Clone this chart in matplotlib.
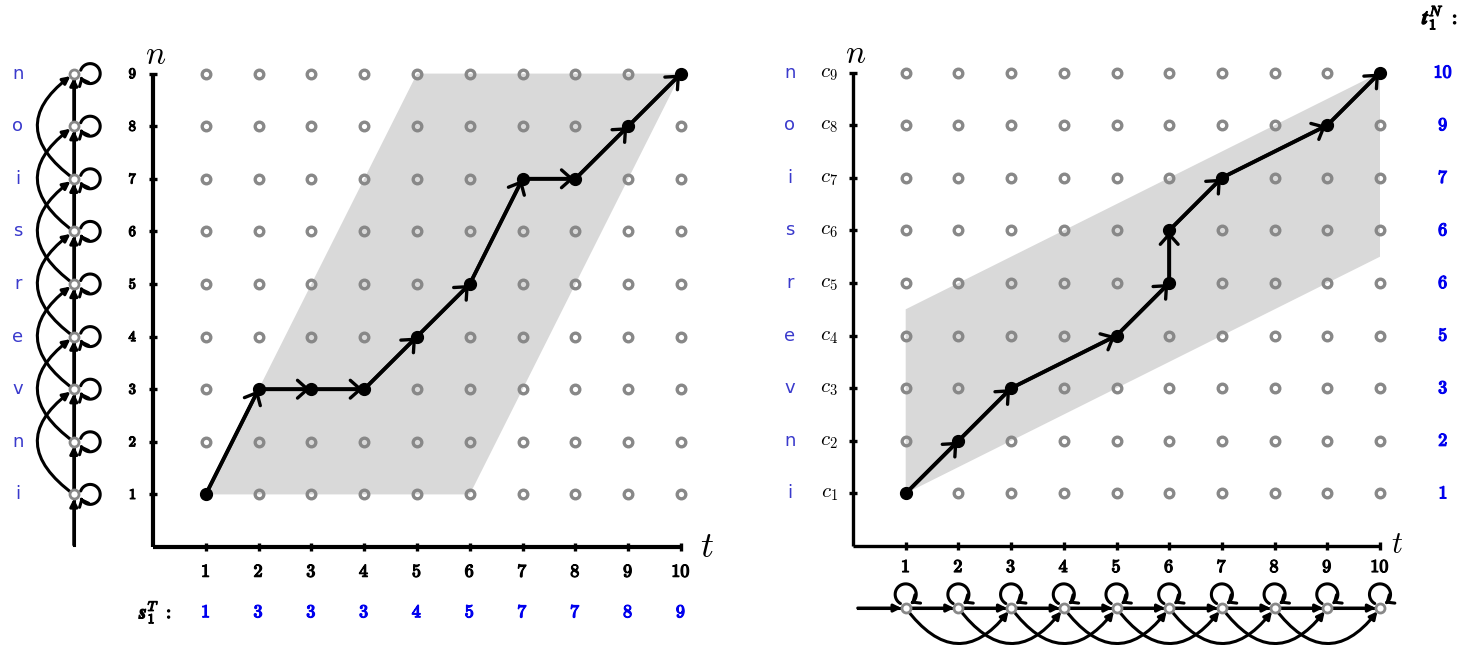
import matplotlib
matplotlib.use('Agg')
import matplotlib.pyplot as plt
import matplotlib.patheffects as pe
from matplotlib.patches import FancyArrowPatch, Polygon
from matplotlib.path import Path
import numpy as np

plt.rcParams['mathtext.fontset'] = 'cm'

# grid
t_vals = list(range(1, 11))
n_vals = list(range(1, 10))
letters = list("inversion")

# left: path through (t, s_t) and the allowed band
left_path_t = [1, 2, 3, 4, 5, 6, 7, 8, 9, 10]
left_path_n = [1, 3, 3, 3, 4, 5, 7, 7, 8, 9]
left_band_t = [1, 6, 10, 5]
left_band_n = [1, 1, 9, 9]

# right: path through (t_n, n) and the allowed band
right_path_t = [1, 2, 3, 5, 6, 6, 7, 9, 10]
right_path_n = [1, 2, 3, 4, 5, 6, 7, 8, 9]
right_band_t = [1, 10, 10, 1]
right_band_n = [1, 5.5, 9, 4.5]

W, H = 1466, 645
BLUE = '#0000ee'
LETTER = '#3a3acc'
GRAY = '#888888'
BAND = '#d9d9d9'

fig = plt.figure(figsize=(W / 100, H / 100), dpi=100)


def make_axes(left_px, right_px, x0, y0, dx, dy):
    ax = fig.add_axes([left_px / W, 0, (right_px - left_px) / W, 1])
    ax.set_xlim((left_px - x0) / dx, (right_px - x0) / dx)
    ax.set_ylim((y0 - H) / dy, y0 / dy)
    ax.axis('off')
    return ax


def bold_text(ax, x, y, s, size, color='black'):
    # cm bold digits are thin at this size, so thicken them a bit
    ax.text(x, y, s, fontsize=size, ha='center', va='center', color=color,
            path_effects=[pe.withStroke(linewidth=0.9, foreground=color)])


def arrow(ax, a, b, style='->', lw=2.6, ms=16, sb=0, rad=0.0, z=5):
    p = FancyArrowPatch(a, b, arrowstyle=style, mutation_scale=ms, lw=lw,
                        color='black', shrinkA=0, shrinkB=sb,
                        connectionstyle=f'arc3,rad={rad}', zorder=z)
    ax.add_patch(p)


def loop(ax, cx, cy, r, a0, a1):
    ang = np.radians(np.linspace(a0, a1, 40))
    verts = np.column_stack([cx + r * np.cos(ang), cy + r * np.sin(ang)])
    p = FancyArrowPatch(path=Path(verts),
                        arrowstyle='->,head_length=0.35,head_width=0.3',
                        mutation_scale=12, lw=2.2, color='black', zorder=5)
    ax.add_patch(p)


def lattice(ax, band_t, band_n, path_t, path_n, axis_lw):
    ax.add_patch(Polygon(list(zip(band_t, band_n)), closed=True,
                         facecolor=BAND, edgecolor='none', zorder=0))
    tt, nn = np.meshgrid(t_vals, n_vals)
    ax.plot(tt.ravel(), nn.ravel(), 'o', ms=6.2, mfc='none', mec=GRAY,
            mew=2.4, zorder=2, linestyle='none')
    ax.plot(path_t, path_n, color='black', lw=2.8, zorder=3)
    ax.plot(path_t, path_n, 'o', color='black', ms=8.5, zorder=4)
    for i in range(len(path_t) - 1):
        arrow(ax, (path_t[i], path_n[i]), (path_t[i + 1], path_n[i + 1]),
              style='->,head_length=0.45,head_width=0.4', lw=2.4, ms=16, sb=1)
    # axes
    ax.plot([0, 10], [0, 0], color='black', lw=axis_lw, zorder=3,
            solid_capstyle='butt')
    ax.plot([0, 0], [0, 9], color='black', lw=axis_lw, zorder=3,
            solid_capstyle='butt')
    ax.plot(t_vals, [0] * len(t_vals), '|', color='black', ms=6, mew=2.4)
    ax.plot([0] * len(n_vals), n_vals, '_', color='black', ms=6, mew=2.4)


# ---------------- left panel ----------------
axL = make_axes(0, 733, 153, 547, 52.8, 52.6)
lattice(axL, left_band_t, left_band_n, left_path_t, left_path_n, 3.0)
axL.text(0.05, 9.05, r'$n$', fontsize=24, ha='center', va='bottom')
axL.text(10.5, 0.0, r'$t$', fontsize=26, ha='center', va='center')
for n in n_vals:
    bold_text(axL, -0.38, n, r'$\mathbf{%d}$' % n, 10.5)
for t in t_vals:
    bold_text(axL, t, -0.47, r'$\mathbf{%d}$' % t, 13)
for t, s in zip(left_path_t, left_path_n):
    bold_text(axL, t, -1.24, r'$\mathbf{%d}$' % s, 13, BLUE)
bold_text(axL, 0.05, -1.24, r'$\boldsymbol{s}_{\mathbf{1}}^{T}\ \mathbf{:}$', 14)

# left state diagram (vertical)
sx = -1.5
axL.plot([sx, sx], [0.04, 9], color='black', lw=2.2, zorder=4)
prev = 0.04
for n in n_vals:
    arrow(axL, (sx, prev), (sx, n), style='-|>', lw=2.2, ms=11, sb=3, z=5)
    prev = n
for n in n_vals[:-2]:
    arrow(axL, (sx, n), (sx, n + 2), style='-|>', lw=2.2, ms=11, sb=3,
          rad=-0.68, z=5)
for n in n_vals:
    loop(axL, sx + 0.31, n, 0.19, 160, -160)
axL.plot([sx] * len(n_vals), n_vals, 'o', ms=6.5, mfc='white', mec=GRAY,
         mew=2.0, zorder=6, linestyle='none')
for n, ch in zip(n_vals, letters):
    axL.text(-2.56, n, ch, fontsize=13, ha='center', va='center', color=LETTER)

# ---------------- right panel ----------------
axR = make_axes(733, W, 853, 546, 52.7, 52.6)
lattice(axR, right_band_t, right_band_n, right_path_t, right_path_n, 2.4)
axR.text(0.05, 9.05, r'$n$', fontsize=24, ha='center', va='bottom')
axR.text(10.33, 0.02, r'$t$', fontsize=22, ha='center', va='center')
for n in n_vals:
    axR.text(-0.45, n, r'$c_{\mathbf{%d}}$' % n, fontsize=15, ha='center', va='center')
for t in t_vals:
    bold_text(axR, t, -0.4, r'$\mathbf{%d}$' % t, 13)
for n, tn in zip(right_path_n, right_path_t):
    bold_text(axR, 11.2, n, r'$\mathbf{%d}$' % tn, 13, BLUE)
bold_text(axR, 11.14, 10.04, r'$\boldsymbol{t}_{\mathbf{1}}^{N}\ \mathbf{:}$', 15)

# bottom state diagram (horizontal)
sy = -1.18
axR.plot([0.09, 10], [sy, sy], color='black', lw=2.2, zorder=4)
prev = 0.09
for t in t_vals:
    arrow(axR, (prev, sy), (t, sy), style='-|>', lw=2.2, ms=11, sb=3, z=5)
    prev = t
for t in t_vals[:-2]:
    arrow(axR, (t, sy), (t + 2, sy), style='-|>', lw=2.2, ms=11, sb=3,
          rad=0.66, z=5)
for t in t_vals:
    loop(axR, t, sy + 0.26, 0.2, 240, -60)
axR.plot(t_vals, [sy] * len(t_vals), 'o', ms=6.5, mfc='white', mec=GRAY,
         mew=2.0, zorder=6, linestyle='none')
for n, ch in zip(n_vals, letters):
    axR.text(-1.2, n, ch, fontsize=13, ha='center', va='center', color=LETTER)

fig.savefig('out.png', dpi=100)
